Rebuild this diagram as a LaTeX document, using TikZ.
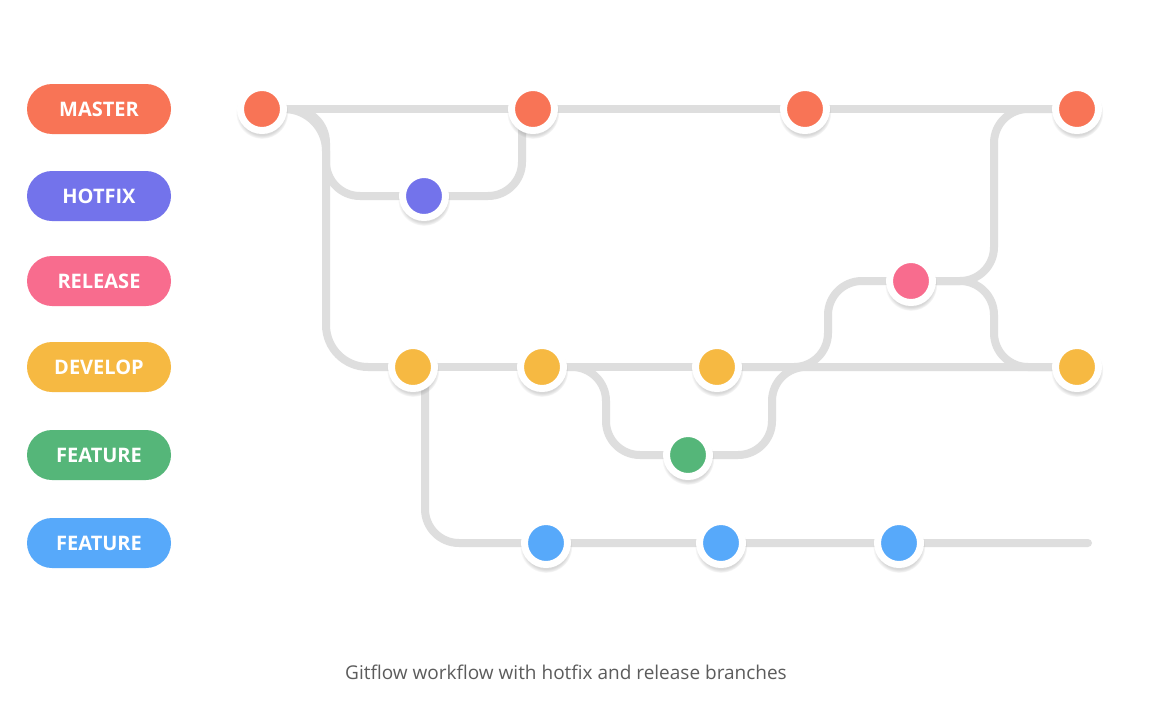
\documentclass[tikz,border=0pt]{standalone}
\usepackage{fontspec}
\setmainfont{Open Sans}
\usetikzlibrary{shadows, backgrounds}
\definecolor{MasterCol}{HTML}{F87456}
\definecolor{HotfixCol}{HTML}{7373EB}
\definecolor{ReleaseCol}{HTML}{F86C8E}
\definecolor{DevelopCol}{HTML}{F6B942}
\definecolor{FeatureCol}{HTML}{55B679}
\definecolor{FeatureBlue}{HTML}{57A9FA}
\definecolor{LineGray}{HTML}{DEDEDE}
\definecolor{CaptionGray}{HTML}{5C5C5C}

\tikzset{
  tag/.style={fill=#1, text=white, rounded corners=25pt, minimum width=144pt,
    minimum height=50pt, inner sep=0pt, font=\bfseries\fontsize{20}{22}\selectfont},
  commit/.style={circle, draw=white, line width=7pt, fill=#1, minimum size=43pt,
    inner sep=0pt, circular drop shadow={shadow xshift=0pt, shadow yshift=-3pt,
    shadow scale=1.22, opacity=0.3}},
  branch/.style={draw=LineGray, line width=8pt, line cap=round, rounded corners=34pt},
}

\begin{document}
\begin{tikzpicture}[x=1pt, y=-1pt]
  \useasboundingbox (0,0) rectangle (1151,704);

  % Branch tags
  \node[tag=MasterCol] (tmaster) at (99,109) {MASTER};
  \node[tag=HotfixCol] (thotfix) at (99,196) {HOTFIX};
  \node[tag=ReleaseCol] (trelease) at (99,281) {RELEASE};
  \node[tag=DevelopCol] (tdevelop) at (99,367) {DEVELOP};
  \node[tag=FeatureCol] (tfeature) at (99,455) {FEATURE};
  \node[tag=FeatureBlue] (tfeatureb) at (99,543) {FEATURE};

  % Commits
  \node[commit=MasterCol] (m1) at (262,109) {};
  \node[commit=MasterCol] (m2) at (533,109) {};
  \node[commit=MasterCol] (m3) at (805,109) {};
  \node[commit=MasterCol] (m4) at (1077,109) {};
  \node[commit=HotfixCol] (h1) at (424,196) {};
  \node[commit=ReleaseCol] (r1) at (911,281) {};
  \node[commit=DevelopCol] (d1) at (413,367) {};
  \node[commit=DevelopCol] (d2) at (542,367) {};
  \node[commit=DevelopCol] (d3) at (717,367) {};
  \node[commit=DevelopCol] (d4) at (1077,367) {};
  \node[commit=FeatureCol] (g1) at (688,455) {};
  \node[commit=FeatureBlue] (f1) at (546,543) {};
  \node[commit=FeatureBlue] (f2) at (721,543) {};
  \node[commit=FeatureBlue] (f3) at (899,543) {};
  \coordinate (fend) at (1088,543);

  % Branch lines
  \begin{scope}[on background layer]
    \fill[white] (0,0) rectangle (1151,704);
    \draw[branch] (m1.center) -- (m4.center);
    \draw[branch] (d1.center) -- (d4.center);
    \draw[branch, rounded corners=42pt] (m1.center) -- ++(64,0) |- (d1.center);
    \draw[branch] (m1.center) -- ++(64,0) |- (h1.center) -| ([xshift=-11pt]m2.center);
    \draw[branch] ([xshift=12pt]d1.center) |- (f1.center) -- (fend);
    \draw[branch] (d2.center) -- ++(64,0) |- (g1.center) -- ++(84,0) |- (d4.center);
    \draw[branch] (d3.center) -- ++(111,0) |- (r1.center) -- ++(83,0) |- (m4.center);
    \draw[branch] (r1.center) -- ++(83,0) |- (d4.center);
  \end{scope}

  \node[text=CaptionGray, font=\fontsize{19}{22}\selectfont] (caption) at (566,672)
    {Gitflow workflow with hotfix and release branches};
\end{tikzpicture}
\end{document}
